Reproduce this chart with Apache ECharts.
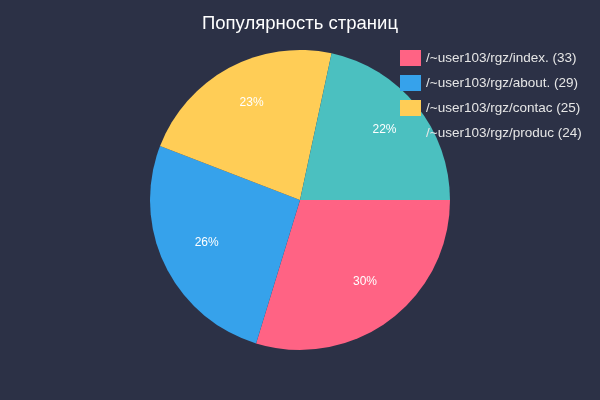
<!DOCTYPE html>
<html>
<head>
<meta charset="utf-8">
<script src="https://cdn.jsdelivr.net/npm/echarts@6/dist/echarts.min.js"></script>
<style>
  html, body { margin: 0; padding: 0; background: #2c3146; }
  #main { width: 600px; height: 400px; }
</style>
</head>
<body>
<div id="main"></div>
<script>
const pages = ["/~user103/rgz/index.", "/~user103/rgz/about.", "/~user103/rgz/contac", "/~user103/rgz/produc"];
const visits = [33, 29, 25, 24];
const colors = ["#ff6384", "#36a2eb", "#ffcd56", "#4bc0c0"];

const total = visits.reduce((a, b) => a + b, 0);
const names = pages.map((p, i) => p + " (" + visits[i] + ")");
const slices = names.map((n, i) => ({ name: n, value: visits[i] }));

const chart = echarts.init(document.getElementById("main"));
chart.setOption({
  backgroundColor: "#2c3146",
  color: colors,
  title: {
    text: "Популярность страниц",
    left: "center",
    top: 9,
    textStyle: { color: "#ffffff", fontSize: 18.5, fontWeight: "normal", fontFamily: "Liberation Sans" }
  },
  legend: {
    orient: "vertical",
    left: 395,
    top: 45,
    itemWidth: 21,
    itemHeight: 16,
    itemGap: 9,
    itemTextGap: 4,
    icon: "rect",
    data: names,
    textStyle: { color: "#e6e6e6", fontSize: 13.5, fontFamily: "Liberation Sans" }
  },
  series: [
    {
      // сам пирог
      type: "pie",
      center: [300, 200],
      radius: [0, 150],
      startAngle: 0,
      clockwise: true,
      animation: false,
      label: { show: false },
      labelLine: { show: false },
      emphasis: { scale: false },
      data: slices
    },
    {
      // прозрачный слой только для подписей с процентами
      type: "pie",
      center: [300, 200],
      radius: [56, 150],
      startAngle: 0,
      clockwise: true,
      animation: false,
      silent: true,
      legendHoverLink: false,
      itemStyle: { color: "transparent" },
      label: {
        show: true,
        position: "inside",
        offset: [2, -4],
        color: "#ffffff",
        fontSize: 12,
        fontFamily: "Liberation Sans",
        formatter: p => Math.round(p.value / total * 100) + "%"
      },
      labelLine: { show: false },
      data: slices
    }
  ]
});
</script>
</body>
</html>
